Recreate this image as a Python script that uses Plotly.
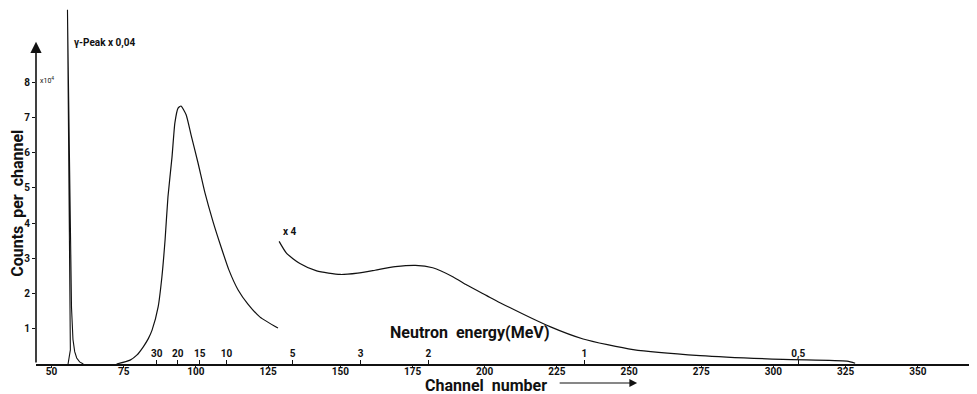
import plotly.graph_objects as go

# ---- data (channel number, counts per channel x10^4) ----
gamma_ch = [55.7, 56.5, 55.5, 56.9, 57.4, 58.0, 58.7, 59.7, 61.0]
gamma_counts = [0.0, 0.4, 10.05, 1.6, 0.7, 0.35, 0.17, 0.06, 0.0]

main_ch = [72.5, 77.2, 79.5, 81.7, 83.5, 84.8, 86.9, 88.2, 89.3, 90.3, 91.7,
           92.7, 93.8, 94.8, 96.6, 98.3, 100.7, 103.1, 105.9, 108.7, 111.4, 114.6,
           118.0, 122.2, 128.4]
main_counts = [0.0, 0.11, 0.25, 0.48, 0.72, 0.96, 1.62, 2.47, 3.52, 4.74, 5.87,
               6.84, 7.26, 7.32, 7.07, 6.50, 5.71, 4.86, 4.04, 3.32, 2.67, 2.10,
               1.70, 1.33, 1.02]

x4_ch = [128.8, 131.4, 136.0, 141.8, 150.0, 156.0, 162.0, 169.0, 176.0, 182.0, 189.1,
         193.8, 200.7, 205.3, 222.6, 234.1, 251.4, 274.6, 303.3, 325.5, 328.3]
x4_counts = [3.48, 3.14, 2.85, 2.64, 2.54, 2.58, 2.66, 2.76, 2.80, 2.73, 2.47,
             2.24, 1.94, 1.74, 1.06, 0.71, 0.41, 0.24, 0.13, 0.08, 0.02]

channel_ticks = [50, 75, 100, 125, 150, 175, 200, 225, 250, 275, 300, 325, 350]
count_ticks = [1, 2, 3, 4, 5, 6, 7, 8]

energy_labels = ["30", "20", "15", "10", "5", "3", "2", "1", "0,5"]
energy_ch = [86.4, 93.7, 101.3, 110.6, 133.5, 157.0, 180.5, 234.5, 308.6]

X_MIN, X_MAX = 44.6, 370.5
Y_MAX = 10.10

FONT = "Roboto, DejaVu Sans"
INK = "#111111"

fig = go.Figure()
fig.add_trace(go.Scatter(x=gamma_ch, y=gamma_counts, mode="lines",
                         line=dict(color=INK, width=1.1), hoverinfo="skip"))
fig.add_trace(go.Scatter(x=main_ch, y=main_counts, mode="lines",
                         line=dict(color=INK, width=1.2, shape="spline", smoothing=0.5),
                         hoverinfo="skip"))
fig.add_trace(go.Scatter(x=x4_ch, y=x4_counts, mode="lines",
                         line=dict(color=INK, width=1.2, shape="spline", smoothing=0.6),
                         hoverinfo="skip"))
# invisible trace to carry the energy axis
fig.add_trace(go.Scatter(x=[X_MIN, X_MAX], y=[0, 0], xaxis="x2", mode="lines",
                         line=dict(width=0), hoverinfo="skip", showlegend=False))

tick_font = dict(family=FONT, size=10, color=INK, weight="bold")
fig.update_layout(
    width=969, height=386,
    margin=dict(l=28, r=0, t=0, b=30),
    paper_bgcolor="white", plot_bgcolor="white",
    showlegend=False,
    font=dict(family=FONT, color=INK),
    xaxis=dict(range=[X_MIN, X_MAX], tickvals=channel_ticks, showgrid=False,
               zeroline=False, showline=True, linecolor=INK, linewidth=1.5,
               ticks="outside", ticklen=2, tickcolor=INK, tickfont=tick_font,
               ticklabelstandoff=-5),
    xaxis2=dict(range=[X_MIN, X_MAX], overlaying="x", anchor="y", side="bottom",
                tickvals=energy_ch, ticktext=energy_labels, showgrid=False,
                zeroline=False, showline=False, ticks="inside", ticklen=4,
                tickcolor=INK, ticklabelposition="inside", tickfont=tick_font),
    yaxis=dict(range=[0, Y_MAX], tickvals=count_ticks, showgrid=False, zeroline=False,
               showline=False, ticks="outside", ticklen=3, tickcolor=INK,
               tickfont=tick_font),
)

# y axis drawn as an arrow
fig.add_annotation(x=X_MIN, y=9.14, ax=X_MIN, ay=0, xref="x", yref="y", axref="x",
                   ayref="y", showarrow=True, arrowhead=2, arrowsize=1.4,
                   arrowwidth=1.6, arrowcolor=INK, text="")

fig.add_annotation(x=-0.0205, y=0.452, xref="paper", yref="paper",
                   xanchor="center", yanchor="middle",
                   text="Counts  per  channel", textangle=-90, showarrow=False,
                   font=dict(family=FONT, size=16, color=INK, weight="bold"))
fig.add_annotation(x=45.3, y=8.06, xref="x", yref="y", xanchor="left",
                   yanchor="middle", text="x10<sup>4</sup>", showarrow=False,
                   font=dict(family=FONT, size=7, color=INK))
fig.add_annotation(x=57.1, y=9.11, xref="x", yref="y", xanchor="left",
                   yanchor="middle", text="γ-Peak x 0,04", showarrow=False,
                   font=dict(family=FONT, size=10, color=INK, weight="bold"))
fig.add_annotation(x=132.6, y=3.75, xref="x", yref="y", xanchor="center",
                   yanchor="middle", text="x 4", showarrow=False,
                   font=dict(family=FONT, size=10, color=INK, weight="bold"))
fig.add_annotation(x=166.5, y=0.88, xref="x", yref="y", xanchor="left",
                   yanchor="middle", text="Neutron  energy(MeV)", showarrow=False,
                   font=dict(family=FONT, size=16, color=INK, weight="bold"))
fig.add_annotation(x=178.6, y=-0.0590, xref="x", yref="paper", xanchor="left",
                   yanchor="middle", text="Channel  number", showarrow=False,
                   font=dict(family=FONT, size=16, color=INK, weight="bold"))
fig.add_annotation(x=252.8, y=-0.0534, ax=-79, ay=0, xref="x", yref="paper",
                   axref="pixel", ayref="pixel", showarrow=True, arrowhead=2,
                   arrowsize=1.3, arrowwidth=1.2, arrowcolor=INK, text="")

fig.write_html("out.html")
